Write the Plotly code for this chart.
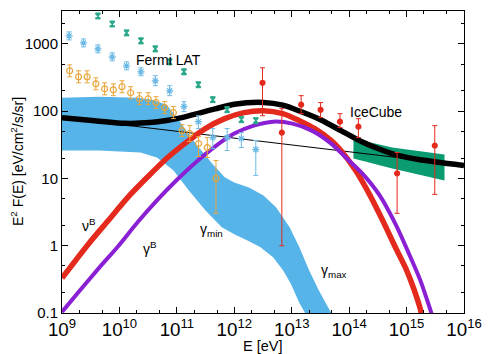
import plotly.graph_objects as go

# ---------------- data ----------------
# thick black total curve
black_E = [1e9, 3.33e9, 1.25e10, 3.43e10, 6.62e10, 1.28e11, 2.39e11, 4.61e11, 1.00e12,
           3.22e12, 7.00e12, 1.52e13, 3.30e13, 7.19e13, 1.56e14, 3.40e14, 7.38e14,
           1.61e15, 3.49e15, 1e16]
black_F = [80.2, 72.5, 66.0, 67.6, 72.5, 81.0, 93.0, 108, 127,
           135, 123, 97.0, 73.5, 51.4, 36.0, 27.2, 21.8,
           19.1, 17.4, 15.6]

# thin black power law
thin_E = [1e9, 1e16]
thin_F = [80.2, 15.6]

# nu^B (red)
nuB_E = [1e9, 2.96e9, 6.44e9, 1.40e10, 3.05e10, 6.62e10, 1.44e11, 3.13e11, 6.81e11,
         1.48e12, 3.22e12, 7.00e12, 1.36e13, 2.52e13, 4.88e13, 7.19e13, 1.29e14,
         2.31e14, 3.82e14, 6.58e14, 9.70e14, 1.32e15, 1.73e15, 1.95e15]
nuB_F = [0.33, 1.09, 2.39, 5.24, 10.4, 19.8, 34.1, 55.1, 77.4,
         95.1, 101.6, 91.8, 72.3, 55.1, 36.6, 26.0, 13.2,
         5.60, 2.39, 0.900, 0.460, 0.235, 0.115, 0.07]

# gamma^B (purple)
gamB_E = [1e9, 2.01e9, 4.38e9, 9.51e9, 2.07e10, 4.50e10, 9.77e10, 2.12e11, 4.61e11,
          1.00e12, 2.18e12, 4.74e12, 1.03e13, 2.24e13, 4.88e13, 8.73e13, 1.69e14,
          3.40e14, 6.58e14, 1.09e15, 1.73e15, 2.37e15, 2.88e15]
gamB_F = [0.1035, 0.212, 0.464, 0.984, 2.23, 4.72, 9.33, 17.3, 29.8,
          46.4, 61.0, 69.8, 65.3, 51.4, 33.0, 20.5, 11.9,
          5.60, 2.01, 0.774, 0.308, 0.141, 0.084]

# gamma band (gamma_min .. gamma_max)
band_up_E = [1e9, 4.38e9, 2.07e10, 3.70e10, 6.62e10, 1.10e11, 2.12e11, 4.11e11, 6.81e11,
             1.00e12, 1.80e12, 3.22e12, 5.33e12, 9.19e12, 1.36e13, 2.00e13, 2.94e13,
             4.88e13, 7.19e13]
band_up_F = [158, 164, 158, 148, 125, 72.3, 33.0, 16.7, 10.4,
             8.73, 7.36, 5.60, 3.72, 1.88, 0.95, 0.434, 0.219,
             0.1, 0.05]
band_lo_E = [1e9, 4.38e9, 2.32e10, 4.50e10, 8.69e10, 1.62e11, 3.13e11, 6.05e11,
             1.00e12, 1.66e12, 2.86e12, 4.74e12, 7.00e12, 9.55e12, 1.36e13, 1.71e13, 2.00e13]
band_lo_F = [26.0, 26.0, 24.3, 20.5, 13.2, 6.64, 3.36, 1.88,
             1.48, 1.21, 0.95, 0.676, 0.434, 0.278, 0.141, 0.1, 0.05]

# IceCube best-fit band (green)
ic_band_E = [1.19e14, 5.62e14, 4.58e15]
ic_band_top = [39.2, 28.8, 22.7]
ic_band_bot = [19.8, 14.0, 9.33]

# Fermi LAT points: green (hourglass)
fg_E = [4.22e9, 7.50e9, 1.33e10, 2.37e10, 4.22e10, 7.50e10, 1.33e11, 2.37e11,
        4.22e11, 7.50e11, 1.33e12, 2.37e12]
fg_F = [2600, 1977, 1455, 1107, 843, 541, 385, 247, 148, 105, 74.8, 72.3]
fg_hi = [2880, 2190, 1610, 1230, 935, 600, 427, 274, 164, 117, 83, 80]
fg_lo = [2350, 1785, 1315, 1000, 760, 488, 347, 223, 134, 95, 67.5, 65]

# Fermi LAT points: light blue (asterisk)
fb_E = [1.33e9, 2.37e9, 4.22e9, 7.50e9, 1.33e10, 2.37e10, 4.22e10, 7.50e10,
        1.33e11, 2.37e11, 4.22e11, 7.50e11, 1.33e12, 2.37e12]
fb_F = [1315, 1035, 843, 642, 472, 385, 283, 201, 117, 69.8, 40.5, 40.5, 39.2, 26.9]
fb_hi = [1506, 1186, 966, 736, 541, 441, 336, 239, 138, 85.7, 55.1, 55.1, 48.0, 36.6]
fb_lo = [1146, 903, 736, 560, 412, 336, 239, 170, 98.4, 55.1, 27.8, 26.0, 28.8, 11.1]

# Fermi LAT points: orange (open circles)
fo_E = [1.36e9, 1.94e9, 2.74e9, 3.89e9, 5.52e9, 7.83e9, 1.11e10, 1.57e10, 2.23e10,
        3.17e10, 4.33e10, 6.14e10, 8.69e10, 1.23e11, 1.68e11, 2.39e11, 3.39e11, 4.80e11]
fo_F = [398, 324, 324, 255, 215, 208, 231, 188, 153,
        153, 134, 113, 95.1, 51.4, 46.4, 33.0, 28.8, 10.0]
fo_hi = [488, 398, 398, 313, 264, 255, 283, 231, 188,
         188, 164, 139, 117, 63.0, 61.0, 41.9, 40.5, 18.5]
fo_lo = [324, 264, 264, 208, 175, 170, 188, 153, 125,
         125, 109, 92.0, 77.5, 41.9, 35.3, 21.2, 20.5, 3.03]

# IceCube points (red)
ic_E = [3.10e12, 6.73e12, 1.46e13, 3.18e13, 6.92e13, 1.45e14, 6.84e14, 3.10e15]
ic_F = [264, 48.0, 125, 105, 69.8, 58.9, 11.9, 30.8]
ic_hi = [441, 109, 170, 134, 91.8, 77.4, 24.3, 61.0]
ic_lo = [85.7, 1.0, 91.8, 80.2, 57.0, 40.5, 3.03, 5.80]

# text labels: (text, x, y) in paper coordinates (centre of text)
labels = [
    ("Fermi LAT", 0.264, 0.838),
    ("IceCube", 0.782, 0.667),
    ("\u03bd<sup>B</sup>", 0.066, 0.292),
    ("\u03b3<sup>B</sup>", 0.220, 0.215),
    ("\u03b3<sub>min</sub>", 0.371, 0.274),
    ("\u03b3<sub>max</sub>", 0.677, 0.140),
]

# ---------------- figure ----------------
C_BAND = "#56B4E9"
C_ICB = "#0A9B70"
C_RED = "#E42A1D"
C_PUR = "#8A1FD3"
C_FG = "#2BA88A"
C_FB = "#6DB9E6"
C_FO = "#E8A53A"

fig = go.Figure()

fig.add_trace(go.Scatter(x=band_up_E + band_lo_E[::-1], y=band_up_F + band_lo_F[::-1],
                         mode="lines", fill="toself", fillcolor=C_BAND,
                         line=dict(width=0, color=C_BAND), hoverinfo="skip"))
fig.add_trace(go.Scatter(x=ic_band_E + ic_band_E[::-1], y=ic_band_top + ic_band_bot[::-1],
                         mode="lines", fill="toself", fillcolor=C_ICB,
                         line=dict(width=0, color=C_ICB), hoverinfo="skip"))
fig.add_trace(go.Scatter(x=thin_E, y=thin_F, mode="lines", line=dict(color="black", width=1)))
fig.add_trace(go.Scatter(x=nuB_E, y=nuB_F, mode="lines",
                         line=dict(color=C_RED, width=5.5, shape="spline", smoothing=0.8)))
fig.add_trace(go.Scatter(x=gamB_E, y=gamB_F, mode="lines",
                         line=dict(color=C_PUR, width=4, shape="spline", smoothing=0.8)))
fig.add_trace(go.Scatter(x=black_E, y=black_F, mode="lines",
                         line=dict(color="black", width=5.5, shape="spline", smoothing=0.8)))


def pts(E, F, hi, lo, color, symbol, size):
    up = [h - f for h, f in zip(hi, F)]
    dn = [f - l for f, l in zip(F, lo)]
    return go.Scatter(x=E, y=F, mode="markers",
                      marker=dict(symbol=symbol, size=size, color=color,
                                  line=dict(color=color, width=1.2)),
                      error_y=dict(type="data", symmetric=False, array=up, arrayminus=dn,
                                   color=color, thickness=1, width=2.5))


fig.add_trace(pts(fo_E, fo_F, fo_hi, fo_lo, C_FO, "circle-open", 6))
fig.add_trace(pts(fb_E, fb_F, fb_hi, fb_lo, C_FB, "asterisk-open", 6))
fig.add_trace(pts(fg_E, fg_F, fg_hi, fg_lo, C_FG, "hourglass", 5))
fig.add_trace(pts(ic_E, ic_F, ic_hi, ic_lo, C_RED, "circle", 5))

FONT = "Liberation Sans, Arial, Helvetica, sans-serif"

for txt, xp, yp in labels:
    fig.add_annotation(x=xp, y=yp, xref="paper", yref="paper", text=txt, showarrow=False,
                       xanchor="center", yanchor="middle",
                       font=dict(size=14, color="black", family=FONT))

fig.add_annotation(x=0.5, y=0, xref="paper", yref="paper", text="E [eV]", showarrow=False,
                   xanchor="center", yanchor="top", yshift=-23,
                   font=dict(size=14.5, color="black", family=FONT))
fig.add_annotation(x=0, y=0.5, xref="paper", yref="paper",
                   text="E<sup>2</sup> F(E) [eV/cm<sup>2</sup>/s/sr]", showarrow=False,
                   textangle=-90, xanchor="center", yanchor="middle", xshift=-45,
                   font=dict(size=14, color="black", family=FONT))

axis_common = dict(type="log", showgrid=False, zeroline=False, showline=True,
                   linecolor="black", linewidth=1, mirror="allticks",
                   ticks="inside", ticklen=6, tickwidth=1, tickcolor="black",
                   dtick=1, ticklabeloverflow="allow",
                   minor=dict(ticks="inside", ticklen=3, tickwidth=1, tickcolor="black",
                              dtick="D2"),
                   tickfont=dict(size=15, color="black", family=FONT))

fig.update_xaxes(range=[9, 16], exponentformat="power", showexponent="all", **axis_common)
fig.update_yaxes(range=[-1, 3.489], tickformat="~g", **axis_common)

fig.update_layout(width=492, height=354, margin=dict(l=62, r=15, t=10, b=41),
                  paper_bgcolor="white", plot_bgcolor="white", showlegend=False,
                  font=dict(family=FONT, color="black"))

fig.write_html("out.html", config={"displayModeBar": False},
               post_script="document.body.style.margin='0';document.body.style.overflow='hidden';")
